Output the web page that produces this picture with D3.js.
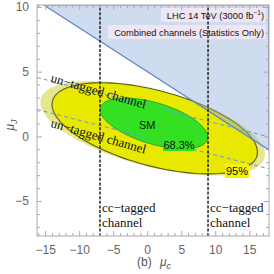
<!DOCTYPE html>
<html><head><meta charset="utf-8">
<script src="https://cdn.jsdelivr.net/npm/d3@7/dist/d3.min.js"></script>
<style>
html,body{margin:0;padding:0;background:#fff;}
svg{display:block;}
</style></head>
<body>
<svg id="chart" width="274" height="274"></svg>
<script>
// ---------- data ----------
const xDomain = [-16.2, 17.9];
const yDomain = [-7.7, 10.15];
const xTicks = [-15, -10, -5, 0, 5, 10, 15];
const yTicks = [-5, 0, 5, 10];
// ellipses: [cx, cy, a (half x-extent), s (conjugate slope), h (half height at centre)]
const ellipseOuter = [0.8, 0.62, 16.5, -0.122, 3.05];  // pale band
const ellipse95 = [1.1, 0.62, 15.1, -0.122, 3.0];      // 95% region
const ellipse68 = [1.0, 1.0, 7.9, -0.134, 1.65];       // 68.3% region
const excludedRegion = [[-15.2, 10.15], [17.9, 10.15], [17.9, -1.05]];
const untaggedUpper = [[-16.2, 4.55], [17.9, -0.04]];
const untaggedLower = [[-16.2, 2.08], [17.9, -2.51]];
const ccTagged = [-6.94, 8.94];
const smPoint = [0, 0.87];

// ---------- scales ----------
const svg = d3.select("#chart");
const x = d3.scaleLinear().domain(xDomain).range([37, 269]);
const y = d3.scaleLinear().domain(yDomain).range([236, 5]);

svg.append("defs").append("clipPath").attr("id", "plotclip")
  .append("rect").attr("x", 37).attr("y", 5).attr("width", 232).attr("height", 231);
const g = svg.append("g").attr("clip-path", "url(#plotclip)");

function ellipsePts(e) {
  const [cx, cy, a, s, h] = e;
  return d3.range(0, 361, 3).map(deg => {
    const t = deg * Math.PI / 180;
    return [cx + a * Math.cos(t), cy + s * a * Math.cos(t) + h * Math.sin(t)];
  });
}
const line = d3.line().x(d => x(d[0])).y(d => y(d[1]));
const closed = d3.line().x(d => x(d[0])).y(d => y(d[1])).curve(d3.curveLinearClosed);

// ellipses
g.append("path").attr("d", closed(ellipsePts(ellipseOuter))).attr("fill", "#e6e68e");
g.append("path").attr("d", closed(ellipsePts(ellipse95))).attr("fill", "#e8e800")
  .attr("stroke", "#5e5e1c").attr("stroke-width", 1.1);
g.append("path").attr("d", closed(ellipsePts(ellipse68))).attr("fill", "#33e022")
  .attr("stroke", "#2ba52b").attr("stroke-width", 1);

// excluded region
g.append("path").attr("d", closed(excludedRegion))
  .attr("fill", "rgb(140,170,215)").attr("fill-opacity", 0.42)
  .attr("stroke", "#5b84c6").attr("stroke-width", 1.2);

// un-tagged dashed lines
[untaggedUpper, untaggedLower].forEach(l => {
  g.append("path").attr("d", line(l)).attr("fill", "none")
    .attr("stroke", "#6f97d2").attr("stroke-width", 1).attr("stroke-dasharray", "4,3");
});

// label boxes top right
g.append("rect").attr("x", 161).attr("y", 8).attr("width", 105).attr("height", 14)
  .attr("fill", "#f3e6f3").attr("fill-opacity", 0.9);
g.append("rect").attr("x", 108).attr("y", 25).attr("width", 158).attr("height", 14)
  .attr("fill", "#f3e6f3").attr("fill-opacity", 0.9);

// cc-tagged dashed verticals
ccTagged.forEach(v => {
  g.append("line").attr("x1", x(v)).attr("x2", x(v)).attr("y1", y(yDomain[0])).attr("y2", y(yDomain[1]))
    .attr("stroke", "#222").attr("stroke-width", 1.5).attr("stroke-dasharray", "3,1.6");
});

// ---------- axes / frame ----------
const axisColor = "#aaaaaa";
svg.append("rect").attr("x", 37).attr("y", 5).attr("width", 232).attr("height", 231)
  .attr("fill", "none").attr("stroke", axisColor).attr("stroke-width", 1);
const minorX = d3.range(-16, 18).filter(v => v % 5 !== 0);
const minorY = d3.range(-7, 11).filter(v => v % 5 !== 0);
function ticks(sel) {
  sel.selectAll(".domain").remove();
  sel.selectAll("line").attr("stroke", axisColor);
  sel.selectAll("text").attr("fill", "#666").style("font-family", "'Liberation Sans', Arial, sans-serif").style("font-size", "12px");
}
svg.append("g").attr("transform", "translate(0,236)")
  .call(d3.axisBottom(x).tickValues(xTicks).tickSize(-5).tickPadding(9)).call(ticks);
svg.append("g").attr("transform", "translate(0,236)")
  .call(d3.axisBottom(x).tickValues(minorX).tickSize(-3).tickFormat("")).call(ticks);
svg.append("g").attr("transform", "translate(0,5)")
  .call(d3.axisTop(x).tickValues(xTicks).tickSize(-5).tickFormat("")).call(ticks);
svg.append("g").attr("transform", "translate(0,5)")
  .call(d3.axisTop(x).tickValues(minorX).tickSize(-3).tickFormat("")).call(ticks);
svg.append("g").attr("transform", "translate(37,0)")
  .call(d3.axisLeft(y).tickValues(yTicks).tickSize(-5).tickPadding(8)).call(ticks);
svg.append("g").attr("transform", "translate(37,0)")
  .call(d3.axisLeft(y).tickValues(minorY).tickSize(-3).tickFormat("")).call(ticks);
svg.append("g").attr("transform", "translate(269,0)")
  .call(d3.axisRight(y).tickValues(yTicks).tickSize(-5).tickFormat("")).call(ticks);
svg.append("g").attr("transform", "translate(269,0)")
  .call(d3.axisRight(y).tickValues(minorY).tickSize(-3).tickFormat("")).call(ticks);

// ---------- texts ----------
const sans = "'Liberation Sans', Arial, sans-serif";
const serif = "'Liberation Serif', 'Times New Roman', serif";

const t1 = svg.append("text").attr("x", 264).attr("y", 18.5).attr("text-anchor", "end")
  .style("font-family", sans).style("font-size", "9.3px").attr("fill", "#111");
t1.append("tspan").text("LHC 14 TeV (3000 fb");
t1.append("tspan").attr("dy", -3.5).style("font-size", "6.5px").text("−1");
t1.append("tspan").attr("dy", 3.5).text(")");
svg.append("text").attr("x", 264).attr("y", 35.5).attr("text-anchor", "end")
  .style("font-family", sans).style("font-size", "9.3px").attr("fill", "#111")
  .text("Combined channels (Statistics Only)");

// un-tagged labels along dashed lines
const ang = Math.atan2(y(untaggedUpper[1][1]) - y(untaggedUpper[0][1]),
                       x(untaggedUpper[1][0]) - x(untaggedUpper[0][0])) * 180 / Math.PI + 1.5;
[[-14.3, 4.22], [-14.3, 0.74]].forEach(p => {
  svg.append("text").attr("transform", `translate(${x(p[0])},${y(p[1])}) rotate(${ang})`)
    .style("font-family", serif).style("font-size", "13px").attr("fill", "#111")
    .text("un−tagged channel");
});

// cc-tagged labels
ccTagged.forEach(v => {
  const tt = svg.append("text").style("font-family", serif).style("font-size", "13px").attr("fill", "#111");
  tt.append("tspan").attr("x", x(v) + 2).attr("y", 212).text("cc−tagged");
  tt.append("tspan").attr("x", x(v) + 2).attr("y", 227).text("channel");
});

// SM, 68.3%, 95%
svg.append("text").attr("x", x(smPoint[0])).attr("y", y(smPoint[1]) + 4).attr("text-anchor", "middle")
  .style("font-family", sans).style("font-size", "11px").attr("fill", "#111").text("SM");
svg.append("rect").attr("x", 163).attr("y", 138).attr("width", 32).attr("height", 13).attr("fill", "#33e022");
svg.append("text").attr("x", 179).attr("y", 148.5).attr("text-anchor", "middle")
  .style("font-family", sans).style("font-size", "11px").attr("fill", "#111").text("68.3%");
svg.append("rect").attr("x", 225).attr("y", 164).attr("width", 24).attr("height", 14).attr("fill", "#f4f400");
svg.append("text").attr("x", 237).attr("y", 175).attr("text-anchor", "middle")
  .style("font-family", sans).style("font-size", "11px").attr("fill", "#111").text("95%");

// axis labels
svg.append("text").attr("x", 137).attr("y", 266)
  .style("font-family", sans).style("font-size", "12px").attr("fill", "#555").text("(b)");
const xl = svg.append("text").attr("x", 160).attr("y", 266)
  .style("font-family", sans).style("font-size", "12px").attr("fill", "#555");
xl.append("tspan").style("font-style", "italic").text("μ");
xl.append("tspan").attr("dy", 3).style("font-size", "9px").style("font-style", "italic").text("c");

const yl = svg.append("text").attr("transform", "translate(14,125) rotate(-90)").attr("text-anchor", "middle")
  .style("font-family", sans).style("font-size", "12px").attr("fill", "#555");
yl.append("tspan").style("font-style", "italic").text("μ");
yl.append("tspan").attr("dy", 3).style("font-size", "9px").style("font-style", "italic").text("J");
</script>
</body></html>
